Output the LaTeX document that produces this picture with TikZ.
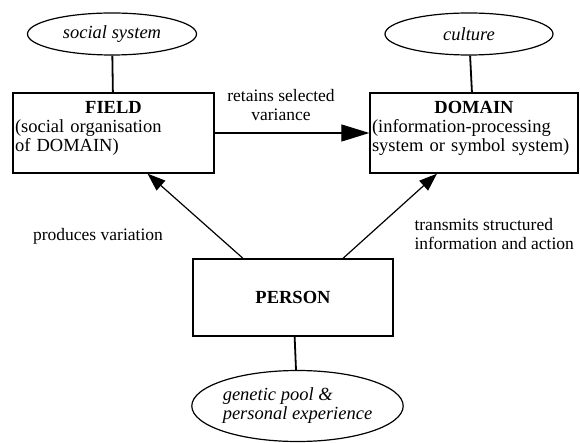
\documentclass[tikz,border=0pt]{standalone}
\usepackage{fontspec}
\setmainfont{Liberation Serif}
\usetikzlibrary{arrows.meta,shapes.geometric,positioning}

\tikzset{sysbox/.style={draw, line width=1.3pt, inner xsep=2pt, inner ysep=2pt,
        align=left, text depth=52pt, minimum height=80pt,
        font=\fontsize{18.5}{19}\selectfont},
    context/.style={draw, ellipse, line width=1.2pt, inner sep=0pt,
        font=\fontsize{18.5}{19}\selectfont\itshape},
    link/.style={line width=1.8pt},
    flow/.style={line width=1.2pt, -{Triangle[length=18pt,width=13pt]}},
    note/.style={font=\fontsize{17.5}{19}\selectfont}}

\begin{document}
\hyphenpenalty=10000
\exhyphenpenalty=10000
\begin{tikzpicture}[x=1pt, y=-1pt]
            \useasboundingbox (0,0) rectangle (580,443);
            % the three boxes
            \node[sysbox, text width=197pt] (field) at (113.5,133)
                {\hfill\textbf{FIELD}\hfill\null\\(social organisation\\of DOMAIN)};
            \node[sysbox, text width=204pt] (domain) at (474,133)
                {\hfill\textbf{DOMAIN}\hfill\null\\(information-processing\\system or symbol system)};
            \node[draw, line width=1.3pt, minimum width=200pt, minimum height=77pt,
                  font=\fontsize{18.5}{19}\selectfont] (person) at (293,297.5) {\textbf{PERSON}};
            % their contexts
            \node[context, minimum width=169pt, minimum height=42pt] (social) at (112,34) {social system};
            \node[context, minimum width=168pt, minimum height=42pt] (culture) at (469,34) {culture};
            \node[context, align=left, minimum width=191pt, minimum height=71pt] (genetic) at (297.5,406)
                {genetic pool \&\\personal experience};
            \draw[link] (social) -- (field);
            \draw[link] (culture) -- (domain);
            \draw[link] (person) -- (genetic);
            % flows between them
            \draw[line width=1.2pt, -{Triangle[length=28pt,width=17pt]}] (field) -- (domain);
            \draw[flow] ([xshift=-50pt]person.north) -- ([xshift=34pt]field.south);
            \draw[flow] ([xshift=50pt]person.north) -- ([xshift=-37pt]domain.south);
            \node[note, align=center] (retain) at (281,105) {retains selected\\variance};
            \node[note] (produce) at (98,236) {produces variation};
            \node[note, align=left, anchor=west] (transmit) at (411,234)
                {transmits structured\\information and action};
        \end{tikzpicture}
\end{document}
